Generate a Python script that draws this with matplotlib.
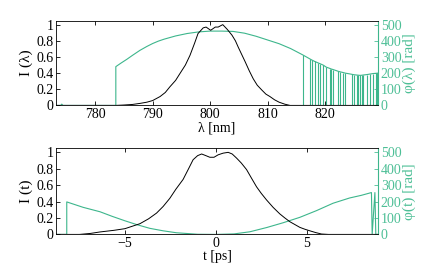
import matplotlib.pyplot as plt
import numpy as np

plt.rcParams['font.family'] = ['Liberation Serif', 'DejaVu Serif']

green = '#3db68c'
green_txt = '#4dbf96'

# spectrum intensity
lam_I = [773.2, 783.5, 785.0, 786.5, 787.8, 789.0, 790.0, 791.3, 792.2, 793.0,
         794.0, 794.8, 795.7, 796.5, 797.3, 797.9, 798.8, 799.3, 800.1, 800.9,
         801.4, 802.2, 803.0, 803.8, 804.4, 804.9, 805.5, 806.1, 806.8, 807.5,
         808.2, 809.0, 809.7, 810.4, 811.2, 812.0, 813.0, 813.9, 829.2]
I_lam = [0.0, 0.0, 0.005, 0.012, 0.025, 0.04, 0.06, 0.11, 0.16, 0.23,
         0.31, 0.40, 0.50, 0.62, 0.77, 0.89, 0.96, 0.97, 0.93, 0.97,
         0.97, 1.0, 0.94, 0.87, 0.80, 0.72, 0.63, 0.54, 0.43, 0.33,
         0.25, 0.19, 0.14, 0.11, 0.07, 0.04, 0.015, 0.0, 0.0]

# spectral phase (rad)
lam_phi = [773.2, 774.0, 774.2, 774.4, 783.6, 783.6, 784.5, 785.5, 786.5, 787.8,
           789.0, 790.0, 791.0, 792.0, 794.0, 796.0, 798.0, 800.0, 802.0, 804.0,
           806.0, 808.0, 810.0, 812.0, 814.0, 816.1, 817.4, 817.7, 818.2, 818.8,
           819.2, 819.7, 820.2, 820.9, 821.1, 821.4, 822.3, 822.6, 823.2, 823.5,
           824.6, 825.0, 825.5, 825.8, 826.1, 826.4, 826.6, 827.3, 827.8, 828.3,
           828.9, 829.2]
phi_lam = [0, 0, 8, 0, 0, 240, 262, 285, 310, 341,
           365, 383, 398, 410, 430, 445, 455, 460, 460, 458,
           447, 428, 405, 382, 352, 313, 287, 281, 272, 263,
           257, 249, 237, 228, 225, 222, 211, 208, 203, 200,
           193, 190, 188, 187, 186, 187, 188, 191, 194, 197,
           199, 200]
# wavelengths where the phase drops to zero
lam_drop = [816.1, 817.4, 817.7, 818.2, 818.8, 819.2, 819.7, 820.2, 820.9, 821.1,
            821.4, 822.3, 822.6, 823.2, 823.5, 824.6, 825.0, 825.5, 825.8, 826.1,
            826.4, 826.6, 827.3, 827.8, 828.3, 828.9, 829.1]
phi_drop = [313, 287, 281, 272, 263, 257, 249, 237, 228, 225,
            222, 211, 208, 203, 200, 193, 190, 188, 187, 186,
            187, 188, 191, 194, 197, 199, 200]

# temporal intensity
t_I = [-8.8, -7.5, -6.9, -6.37, -5.6, -5.0, -4.18, -3.7, -3.26, -2.9,
       -2.53, -2.2, -1.80, -1.5, -1.25, -1.0, -0.78, -0.55, -0.33, -0.1,
       0.13, 0.4, 0.68, 0.9, 1.14, 1.4, 1.69, 1.95, 2.24, 2.5,
       2.79, 3.15, 3.52, 3.8, 4.07, 4.35, 4.62, 4.9, 5.17, 5.5,
       5.81, 6.2, 8.9]
I_t = [0.0, 0.0, 0.012, 0.03, 0.05, 0.07, 0.13, 0.19, 0.26, 0.34,
       0.44, 0.55, 0.67, 0.80, 0.91, 0.96, 0.98, 0.96, 0.94, 0.94,
       0.97, 0.99, 1.0, 0.98, 0.93, 0.87, 0.79, 0.69, 0.58, 0.50,
       0.42, 0.33, 0.25, 0.20, 0.155, 0.12, 0.086, 0.063, 0.044, 0.022,
       0.005, 0.0, 0.0]

# temporal phase (rad)
t_phi = [-8.8, -8.2, -8.2, -7.3, -6.37, -5.7, -5.0, -4.3, -3.63, -2.9,
         -2.16, -1.0, 0.0, 1.0, 1.87, 2.8, 3.7, 4.62, 5.54, 6.45,
         7.36, 8.0, 8.56, 8.6, 8.75, 8.8, 8.92]
phi_t = [0, 0, 198, 165, 138, 110, 83, 58, 37, 22,
         10, 1, 0, 3, 16, 42, 71, 104, 145, 190,
         222, 238, 255, 0, 255, 0, 0]


def style(ax, ax2, xlim, xticks, xticklabels, xlabel, ylabel, ylabel2):
    ax.set_xlim(*xlim)
    ax.set_ylim(0, 1.05)
    ax.set_yticks([0, 0.2, 0.4, 0.6, 0.8, 1])
    ax.set_yticklabels(['0', '0.2', '0.4', '0.6', '0.8', '1'])
    ax.set_xticks(xticks)
    ax.set_xticklabels(xticklabels)
    ax.tick_params(direction='in', length=3, width=0.6, labelsize=10, top=True, pad=2)
    ax.set_xlabel(xlabel, fontsize=10, labelpad=0)
    ax.set_ylabel(ylabel, fontsize=11, labelpad=2)
    for s in ['left', 'top', 'bottom']:
        ax.spines[s].set_linewidth(0.6)
    ax.spines['right'].set_visible(False)
    ax2.set_ylim(0, 525)
    ax2.set_yticks([0, 100, 200, 300, 400, 500])
    ax2.tick_params(direction='in', length=3, width=0.6, labelsize=10,
                    colors=green_txt, pad=2)
    ax2.spines['right'].set_color(green)
    ax2.spines['right'].set_linewidth(0.8)
    for s in ['left', 'top', 'bottom']:
        ax2.spines[s].set_visible(False)
    ax2.set_ylabel(ylabel2, fontsize=11, color=green_txt, labelpad=1)


fig = plt.figure(figsize=(4.31, 2.71), dpi=100)

ax1 = fig.add_axes([0.130, 0.611, 0.747, 0.313])
ax1b = ax1.twinx()
ax1.plot(lam_I, I_lam, color='k', lw=0.7, zorder=3)
ax1b.plot(lam_phi, phi_lam, color=green, lw=0.8)
ax1b.vlines(lam_drop, 0, phi_drop, color=green, lw=0.8)
style(ax1, ax1b, (773.2, 829.2), [780, 790, 800, 810, 820],
      ['780', '790', '800', '810', '820'], 'λ [nm]', 'I (λ)', 'φ(λ) [rad]')

ax2 = fig.add_axes([0.130, 0.135, 0.747, 0.318])
ax2b = ax2.twinx()
ax2.plot(t_I, I_t, color='k', lw=0.7, zorder=3)
ax2b.plot(t_phi, phi_t, color=green, lw=0.8)
style(ax2, ax2b, (-8.79, 8.92), [-5, 0, 5], ['\u22125', '0', '5'],
      't [ps]', 'I (t)', 'φ(t) [rad]')

# keep black curves above the phase axes
ax1.set_zorder(ax1b.get_zorder() + 1)
ax1.patch.set_visible(False)
ax2.set_zorder(ax2b.get_zorder() + 1)
ax2.patch.set_visible(False)

fig.savefig('out.png', dpi=100)
